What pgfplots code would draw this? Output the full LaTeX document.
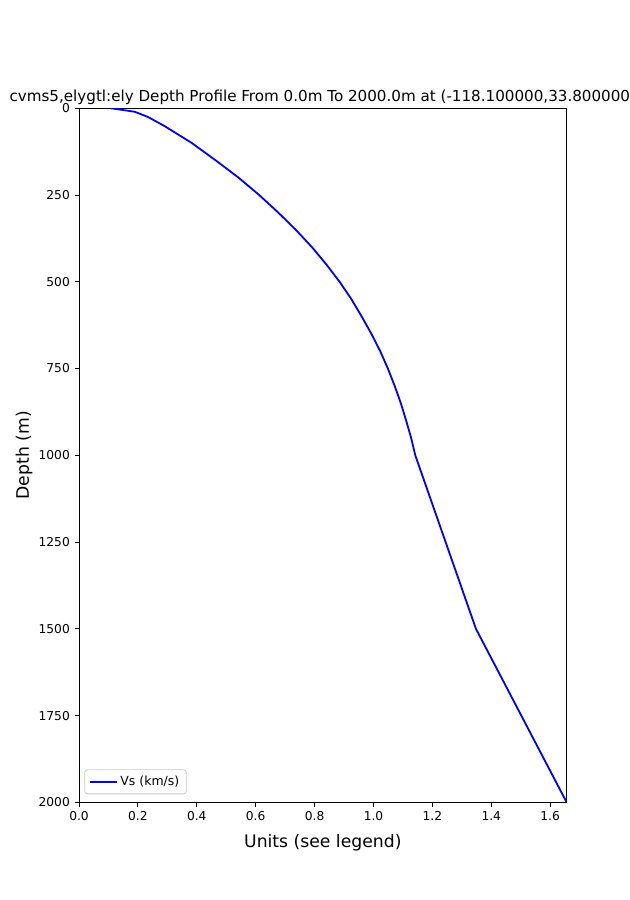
\documentclass[border=0pt]{standalone}
\usepackage{pgfplots}
\pgfplotsset{compat=1.18}
\usepackage{fontspec}
\setmainfont{DejaVu Sans}
\begin{document}
\begin{tikzpicture}
\useasboundingbox (0,0) rectangle (453.6bp,648bp);
\begin{axis}[
  name=ax,
  at={(56.88bp,70.34bp)}, anchor=south west,
  width=351.1bp, height=499.7bp, scale only axis,
  xmin=0, xmax=1.656, ymin=0, ymax=2000,
  y dir=reverse,
  xtick={0,0.2,0.4,0.6,0.8,1.0,1.2,1.4,1.6},
  ytick={0,250,500,750,1000,1250,1500,1750,2000},
  xtick pos=left, ytick pos=left,
  tick align=outside,
  major tick length=3.1bp,
  every tick/.style={black, line width=0.6bp},
  axis line style={line width=0.6bp},
  tick label style={font=\fontsize{8.8bp}{10bp}\selectfont},
  /pgf/number format/assume math mode=true,
  xticklabel style={/pgf/number format/.cd, fixed, fixed zerofill, precision=1},
  yticklabel style={/pgf/number format/.cd, fixed, set thousands separator={}},
  legend style={at={(0,0)}, anchor=south west, xshift=3.8bp, yshift=5.8bp,
    draw=black!20, rounded corners=2bp, line width=0.6bp,
    font=\fontsize{9bp}{10bp}\selectfont, inner xsep=3bp, inner ysep=2.5bp},
  legend cell align=left,
  legend image code/.code={\draw[#1] (0bp,0bp) -- (19.4bp,0bp);},
]
\addplot[color={rgb,1:red,0;green,0;blue,1}, line width=1.3bp] coordinates {
(0.109,0) (0.189,10) (0.234,25) (0.288,50) (0.383,100) (0.464,150)
(0.542,200) (0.612,250) (0.676,300) (0.736,350) (0.791,400) (0.840,450)
(0.885,500) (0.925,550) (0.960,600) (0.993,650) (1.023,700) (1.049,750)
(1.072,800) (1.093,850) (1.111,900) (1.128,950) (1.142,1000)
(1.348,1500) (1.656,2000)
};
\addlegendentry{Vs (km/s)}
\end{axis}
\node[anchor=base, font=\fontsize{10.9bp}{12bp}\selectfont] at ([yshift=5.2bp]ax.north) {cvms5,elygtl:ely Depth Profile From 0.0m To 2000.0m at (-118.100000,33.800000)};
\node[anchor=base, font=\fontsize{12.4bp}{14bp}\selectfont] at ([yshift=-32.3bp]ax.south) {Units (see legend)};
\node[rotate=90, font=\fontsize{12.4bp}{14bp}\selectfont] at ([xshift=-39.6bp]ax.west) {Depth (m)};
\end{tikzpicture}
\end{document}
